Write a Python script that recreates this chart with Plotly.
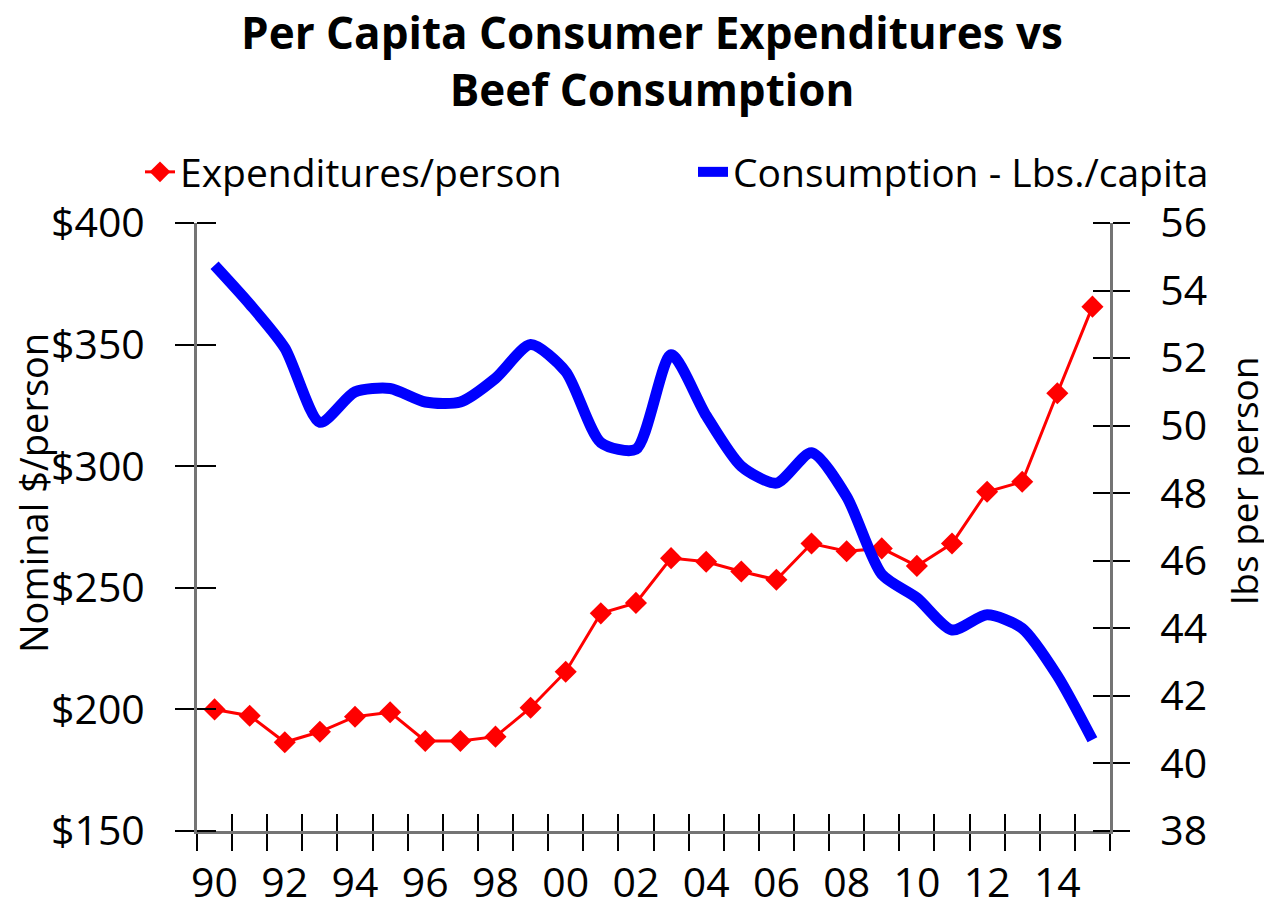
import plotly.graph_objects as go

years = list(range(1990, 2016))
expenditures = [200, 197.4, 186.5, 190.8, 197, 198.8, 187, 187, 188.8, 200.7,
                215.5, 239.5, 243.8, 262.2, 260.7, 256.7, 253.3, 268.2, 265, 266.2,
                259, 268.2, 289.5, 293.6, 330, 365.6]
consumption = [54.75, 53.6, 52.3, 50.1, 51.0, 51.1, 50.7, 50.7, 51.4, 52.4,
               51.6, 49.5, 49.3, 52.1, 50.3, 48.8, 48.3, 49.2, 47.9, 45.6,
               44.9, 43.95, 44.4, 44.0, 42.6, 40.7]
x_label_years = years[0:25:2]
x_tick_text = ["90", "92", "94", "96", "98", "00", "02", "04", "06", "08", "10", "12", "14"]
left_ticks = [150, 200, 250, 300, 350, 400]
left_tick_text = ["$150", "$200", "$250", "$300", "$350", "$400"]
right_ticks = [38, 40, 42, 44, 46, 48, 50, 52, 54, 56]

FONT = "Open Sans"
TICKFONT = dict(family=FONT, size=41, color="black")
xr = [years[0] - 0.5, years[-1] + 0.5]
boundaries = [y - 0.5 for y in years] + [years[-1] + 0.5]
LINEC = "#747474"
W, H = 1272, 910
OFF = 8  # page body margin offset

fig = go.Figure()
fig.add_trace(go.Scatter(
    x=years, y=expenditures, name="Expenditures/person", mode="lines+markers",
    line=dict(color="#ff0000", width=3),
    marker=dict(symbol="diamond", size=17, color="#ff0000"),
    xaxis="x", yaxis="y", legend="legend"))
fig.add_trace(go.Scatter(
    x=years, y=consumption, name="Consumption - Lbs./capita", mode="lines",
    line=dict(color="#0000ff", width=11, shape="spline", smoothing=0.7),
    xaxis="x2", yaxis="y2", legend="legend2"))

common = dict(showgrid=False, zeroline=False, automargin=False)
legend_common = dict(orientation="h", xref="container", yref="container",
                     xanchor="left", yanchor="middle",
                     font=dict(family=FONT, size=39, color="black"),
                     bgcolor="rgba(0,0,0,0)")
fig.update_layout(
    width=W, height=H,
    paper_bgcolor="white", plot_bgcolor="white",
    font=dict(family=FONT, color="black", size=41),
    margin=dict(l=197 - OFF, r=162 + OFF, t=223 - OFF, b=79 + OFF),
    title=dict(text="<b>Per Capita Consumer Expenditures vs<br>Beef Consumption</b>",
               x=(652 - OFF) / W, xanchor="center", xref="container",
               y=1 - 41 / H, yanchor="top", yref="container",
               font=dict(family=FONT, size=44, color="black")),
    showlegend=True,
    legend=dict(x=(140 - OFF) / W, y=1 - (172 - OFF) / H, **legend_common),
    legend2=dict(x=(693 - OFF) / W, y=1 - (172 - OFF) / H, **legend_common),
    xaxis=dict(range=xr, tickvals=x_label_years, ticktext=x_tick_text, ticks="",
               showline=True, linecolor=LINEC, linewidth=3, ticklabelstandoff=14,
               tickfont=TICKFONT,
               minor=dict(tickvals=boundaries, ticks="outside", ticklen=17,
                          tickwidth=2, tickcolor="black"),
               **common),
    xaxis2=dict(range=xr, overlaying="x", anchor="y2", side="bottom", tickvals=boundaries,
                ticks="inside", ticklen=17, tickwidth=2, tickcolor="black",
                showticklabels=False, showline=False, **common),
    yaxis=dict(range=[150, 400], tickvals=left_ticks, ticktext=left_tick_text,
               ticks="outside", ticklen=19, tickwidth=2, tickcolor="black",
               showline=True, linecolor=LINEC, linewidth=3, ticklabelstandoff=22,
               tickfont=TICKFONT,
               minor=dict(tickvals=[v + 0.001 for v in left_ticks], ticks="inside",
                          ticklen=19, tickwidth=2, tickcolor="black"),
               **common),
    yaxis2=dict(range=[38, 56], overlaying="y", anchor="x2", side="right", tickvals=right_ticks,
                ticks="outside", ticklen=17, tickwidth=2, tickcolor="black",
                showline=True, linecolor=LINEC, linewidth=3, ticklabelstandoff=22,
                tickfont=TICKFONT,
                minor=dict(tickvals=[v + 0.0001 for v in right_ticks], ticks="inside",
                           ticklen=17, tickwidth=2, tickcolor="black"),
                **common),
    annotations=[
        dict(text="Nominal $/person", xref="paper", yref="paper",
             x=-(197 - 33) / 913, y=(831 - 493) / 608,
             xanchor="center", yanchor="middle", textangle=-90, showarrow=False,
             font=dict(family=FONT, size=38, color="black")),
        dict(text="lbs per person", xref="paper", yref="paper",
             x=1 + (1243 - 1110) / 913, y=(831 - 481) / 608,
             xanchor="center", yanchor="middle", textangle=-90, showarrow=False,
             font=dict(family=FONT, size=37, color="black")),
    ],
)

fig.write_html("out.html")
